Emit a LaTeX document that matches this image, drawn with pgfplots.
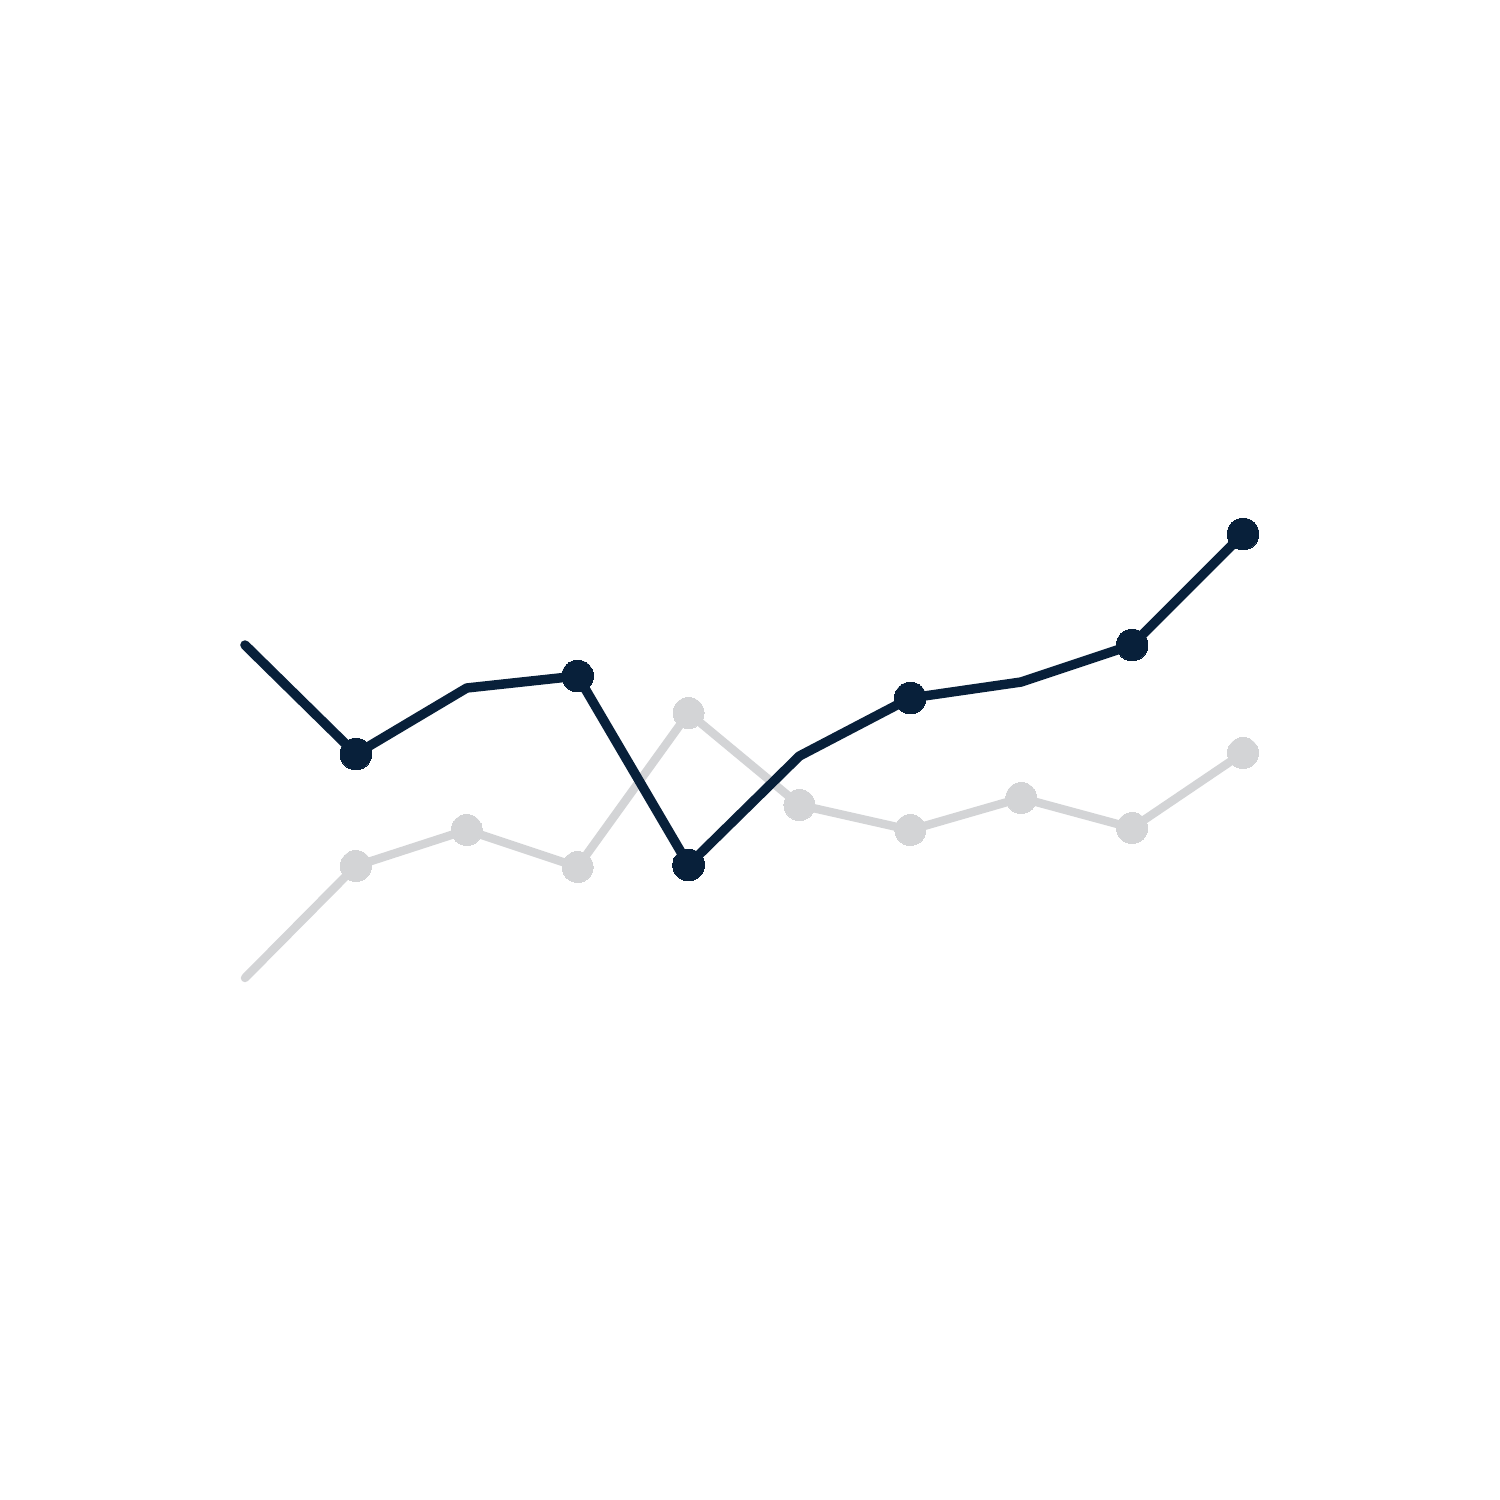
\documentclass[border=0pt]{standalone}
\usepackage{pgfplots}
\pgfplotsset{compat=1.18}
\definecolor{navy}{HTML}{08203A}
\definecolor{lightgray}{HTML}{D3D4D6}

\begin{document}
\begin{tikzpicture}
\begin{axis}[
    width=15cm, height=15cm,
    scale only axis,
    hide axis,
    clip=false,
    xmin=-2.209, xmax=11.317,
    ymin=0, ymax=150,
]
% invisible frame so the page keeps the full square
\path (rel axis cs:0,0) rectangle (rel axis cs:1,1);

% light series (drawn first, underneath)
\addplot[color=lightgray, line width=2.4pt, line cap=round, line join=round,
    mark=*, mark size=4.4pt,
    mark options={fill=lightgray, draw=lightgray, line width=0pt},
    mark indices={2,3,4,5,6,7,8,9,10}]
    coordinates {
    (0,52.2) (1,63.4) (2,67.0) (3,63.3) (4,78.7)
    (5,69.5) (6,67.0) (7,70.2) (8,67.2) (9,74.7)
    };

% dark series
\addplot[color=navy, line width=2.7pt, line cap=round, line join=round,
    mark=*, mark size=4.5pt,
    mark options={fill=navy, draw=navy, line width=0pt},
    mark indices={2,4,5,7,9,10}]
    coordinates {
    (0,85.5) (1,74.6) (2,81.2) (3,82.4) (4,63.5)
    (5,74.4) (6,80.2) (7,81.8) (8,85.5) (9,96.6)
    };
\end{axis}
\end{tikzpicture}
\end{document}
